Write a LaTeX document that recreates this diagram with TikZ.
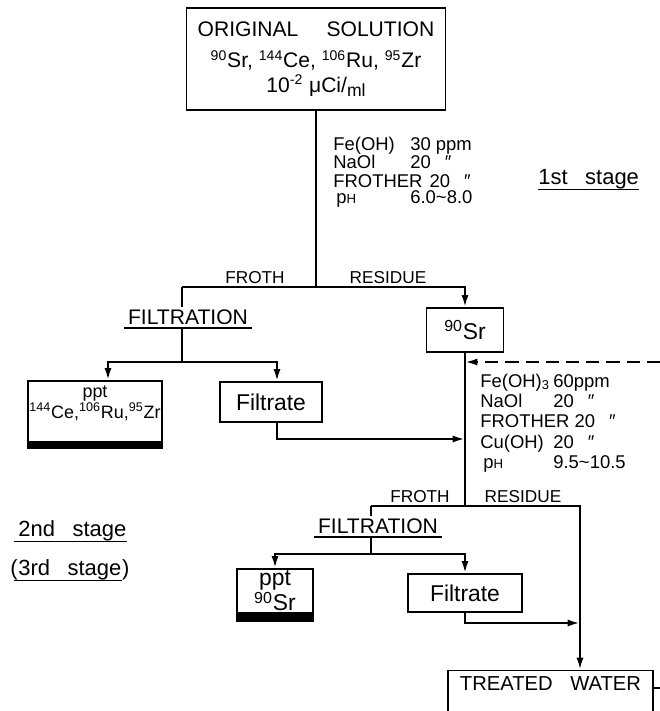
\documentclass[tikz,border=0pt]{standalone}
\usepackage{fontspec}
\setmainfont{Liberation Sans}
\usetikzlibrary{arrows.meta}
\newcommand{\iso}[2]{\textsuperscript{#1}#2}
\newcommand{\pH}{p{\fontsize{7.5}{7.5}\selectfont H}}

\begin{document}
\begin{tikzpicture}[x=0.02cm,y=-0.02cm,font=\fontsize{10.5}{12}\selectfont,
  >={Latex[length=7pt,width=4pt]},
  box/.style={draw,line width=0.75pt,inner sep=1pt},
  flow/.style={line width=1.3pt},
  cut/.style={anchor=base,inner sep=0pt,font=\fontsize{9.8}{11}\selectfont},
  chem/.style={anchor=base west,inner sep=0pt},
  filtr/.style={anchor=south,inner xsep=2pt,inner ysep=1.5pt,font=\fontsize{12}{14}\selectfont},
  stage/.style={anchor=base west,inner sep=0pt,font=\fontsize{12.5}{14}\selectfont}]
  \clip (0,0) rectangle (660,711);

  \node[box,minimum width=5.18cm,minimum height=2.04cm,align=center,
    font=\fontsize{12}{17}\selectfont] (orig) at (316,59)
    {ORIGINAL\hspace{16pt}SOLUTION\\[1pt]
     \iso{90}{Sr}, \iso{144}{Ce}, \iso{106}{Ru}, \iso{95}{Zr}\\[-3pt]
     10\textsuperscript{-2} μCi/\raisebox{-0.4ex}{\fontsize{10}{10}\selectfont ml}};
  \coordinate (split1) at (316,287);
  \coordinate (fr1) at (182,287);
  \node[box,minimum width=1.54cm,minimum height=0.88cm,font=\fontsize{13}{15}\selectfont] (sr) at (465,330) {\iso{90}{Sr}};
  \node[filtr] (filt1) at (188,328) {FILTRATION};
  \draw[flow] (orig) -- (split1);
  \draw[flow,->] (fr1) -- (split1) -| (sr);
  \draw[flow] (fr1) -- (fr1 |- filt1.north);
  \draw[line width=0.75pt] (filt1.south west) -- (filt1.south east);
  \coordinate (br1) at (182,362);
  \draw[flow] (fr1 |- filt1.south) -- (br1);
  \node[box,minimum width=2.68cm,minimum height=1.22cm] (ppt1) at (95,411.5) {};
  \node[align=center,inner sep=0pt,font=\fontsize{10.2}{12}\selectfont] (ppt1txt) at (95,403)
    {ppt\\\iso{144}{Ce},\iso{106}{Ru},\iso{95}{Zr}};
  \fill (ppt1.south west) rectangle ([yshift=-3.4pt]ppt1.south east);
  \node[box,minimum width=2.04cm,minimum height=0.8cm,font=\fontsize{13}{15}\selectfont] (filtr1) at (271,402) {Filtrate};
  \draw[flow,->] (br1) -| ([xshift=0.26cm]ppt1.north);
  \draw[flow,->] (br1) -| ([xshift=0.12cm]filtr1.north);
  \coordinate (j1) at (465,439);
  \draw[flow,->] ([xshift=0.12cm]filtr1.south) |- (j1);

  \coordinate (feed) at (660,362);
  \draw[flow,dash pattern=on 7.5pt off 4pt,->] (feed) -- (feed -| sr.south);
  \coordinate (split2) at (465,506);
  \draw[flow] (sr) -- (split2);
  \coordinate (fr2) at (371,506);
  \coordinate (re2) at (580,506);
  \node[box,anchor=north,minimum width=4.1cm,text height=8.5pt,text depth=40pt,inner ysep=3pt,
    font=\fontsize{11.5}{14}\selectfont] (tw) at (550.5,670) {TREATED\hspace{10pt}WATER};
  \draw[flow,->] (fr2) -- (re2) -- (re2 |- tw.north);
  \node[filtr] (filt2) at (378,537) {FILTRATION};
  \draw[flow] (fr2) -- (fr2 |- filt2.north);
  \draw[line width=0.75pt] (filt2.south west) -- (filt2.south east);
  \coordinate (br2) at (371,554);
  \draw[flow] (fr2 |- filt2.south) -- (br2);
  \node[box,minimum width=1.52cm,minimum height=0.88cm,align=center,
    font=\fontsize{13}{13}\selectfont] (ppt2) at (275,591) {ppt\\\iso{90}{Sr}};
  \fill (ppt2.south west) rectangle ([yshift=-5pt]ppt2.south east);
  \node[box,minimum width=2.28cm,minimum height=0.76cm,font=\fontsize{13}{15}\selectfont] (filtr2) at (465,593) {Filtrate};
  \draw[flow,->] (br2) -| (ppt2);
  \draw[flow,->] (br2) -| (filtr2);
  \coordinate (j2) at (580,623);
  \draw[flow,->] (filtr2) |- (j2);
  \coordinate (tick) at (660,688);
  \draw[line width=0.75pt] (tw.east |- tick) -- (tick);

  \node[cut] (froth1) at (255,283) {FROTH};
  \node[cut] (res1) at (388,283) {RESIDUE};
  \node[cut] (froth2) at (420,502) {FROTH};
  \node[cut] (res2) at (523,502) {RESIDUE};

  \foreach \yy/\lft/\rgt [count=\i] in {150/Fe(OH)/30 ppm,168/NaOl/20\hspace{8pt}″,203/\,\pH/6.0\textasciitilde 8.0}
    {\node[chem] (addA\i) at (333,\yy) {\lft};
     \node[chem] (valA\i) at (410,\yy) {\rgt};}
  \node[chem] (frothA) at (333,187) {FROTHER\hspace{4pt}20\hspace{8pt}″};
  \foreach \yy/\lft/\rgt [count=\i] in {387/Fe(OH)\textsubscript{3}/60ppm,407/NaOl/20\hspace{8pt}″,448/Cu(OH)/20\hspace{8pt}″,468/\,\pH/9.5\textasciitilde 10.5}
    {\node[chem] (addB\i) at (480,\yy) {\lft};
     \node[chem] (valB\i) at (553,\yy) {\rgt};}
  \node[chem] (frothB) at (480,427) {FROTHER 20\hspace{8pt}″};

  \node[stage] (st1) at (538,184) {1st\hspace{10pt}stage};
  \draw[line width=0.75pt] ([yshift=-3pt]st1.base west) -- ([yshift=-3pt]st1.base east);
  \node[stage] (st2) at (18,536) {2nd\hspace{10pt}stage};
  \draw[line width=0.75pt] ([xshift=-2pt,yshift=-3pt]st2.base west) -- ([yshift=-3pt]st2.base east);
  \node[stage] (st3) at (18,575) {3rd\hspace{10pt}stage};
  \node[stage,anchor=base east] (st3l) at (st3.base west) {(};
  \node[stage] (st3r) at (st3.base east) {)};
  \draw[line width=0.75pt] ([xshift=-2pt,yshift=-3pt]st3.base west) -- ([yshift=-3pt]st3.base east);
\end{tikzpicture}
\end{document}
